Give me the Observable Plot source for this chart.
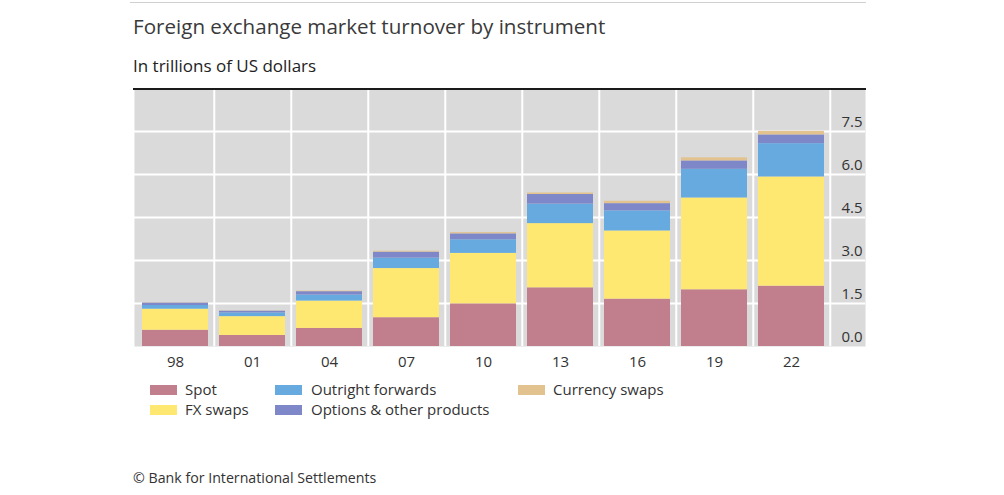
<!DOCTYPE html>
<html><head><meta charset="utf-8">
<script src="https://cdn.jsdelivr.net/npm/d3@7"></script>
<script src="https://cdn.jsdelivr.net/npm/@observablehq/plot@0.6"></script>
<style>
body{margin:0;background:#fff;font-family:"Open Sans",sans-serif;color:#333}
#wrap{position:relative;width:1004px;height:495px;overflow:hidden}
.abs{position:absolute;white-space:nowrap}
#topline{left:130px;top:2px;width:736px;height:1px;background:#d0d0d0}
#title{left:133px;top:16px;font-size:20.6px;line-height:20px;color:#3a3a3a}
#subtitle{left:133px;top:57px;font-size:17px;line-height:17px;color:#222}
#chart{left:0;top:88px}
#blackline{left:133px;top:88px;width:733px;height:1.5px;background:#1a1a1a}
#footer{left:133px;top:471px;font-size:14.2px;line-height:14px;color:#333}
.sw{position:absolute;width:27px;height:10px}
.lt{position:absolute;font-size:15px;line-height:15px;color:#333;white-space:nowrap}
</style></head><body>
<div id="wrap">
<div id="topline" class="abs"></div>
<div id="title" class="abs">Foreign exchange market turnover by instrument</div>
<div id="subtitle" class="abs">In trillions of US dollars</div>
<div id="chart" class="abs"></div>
<div id="blackline" class="abs"></div>
<div id="legend"></div>
<div id="footer" class="abs">© Bank for International Settlements</div>
</div>
<script>
const years = ["98","01","04","07","10","13","16","19","22"];
const instruments = ["Spot","FX swaps","Outright forwards","Options & other products","Currency swaps"];
const spot      = [0.568,0.386,0.631,1.005,1.489,2.047,1.652,1.979,2.104];
const fxSwaps   = [0.734,0.656,0.954,1.714,1.759,2.240,2.378,3.202,3.810];
const outright  = [0.128,0.130,0.209,0.362,0.475,0.679,0.700,0.999,1.163];
const options   = [0.087,0.060,0.119,0.212,0.207,0.337,0.254,0.294,0.304];
const currSwaps = [0.010,0.007,0.021,0.031,0.043,0.054,0.082,0.108,0.124];
const colors = ["#c17f8e","#ffe872","#67aadf","#7e88c9","#e2c38f"];
const yTicks = [0, 1.5, 3, 4.5, 6, 7.5];

const series = [spot, fxSwaps, outright, options, currSwaps];
const data = years.flatMap((yr, i) => instruments.map((inst, k) => ({year: yr, instrument: inst, value: series[k][i]})));

const x0 = 134, x1 = 832;
const step = (x1 - x0) / years.length;
const chart = Plot.plot({
  width: 1004, height: 290,
  marginTop: 0, marginBottom: 32, marginLeft: 134, marginRight: 139,
  x: {domain: years, range: [x0, x1], paddingInner: 0.14, paddingOuter: 0.07, label: null, axis: null},
  y: {domain: [0, 9], label: null, axis: null},
  color: {domain: instruments, range: colors},
  style: {fontFamily: "'Open Sans', sans-serif", fontSize: "15px", color: "#333", background: "transparent"},
  marks: [
    Plot.frame({fill: "#dadada", stroke: null}),
    Plot.ruleY(yTicks.slice(1), {stroke: "#fff", strokeWidth: 2}),
    Plot.ruleX(years, {x: d => d, dx: step / 2, stroke: "#fff", strokeWidth: 2}),
    Plot.barY(data, {x: "year", y: "value", fill: "instrument"}),
    Plot.axisX({tickSize: 0, tickPadding: 10, label: null, fontSize: 15}),
    Plot.text(yTicks, {y: d => d, frameAnchor: "right", text: d => d.toFixed(1), textAnchor: "end", dx: -3, dy: -9, fill: "#333", fontSize: 15})
  ]
});
document.getElementById("chart").appendChild(chart);

// legend (column-major, two rows)
const legendPos = [
  {sx: 150, tx: 185, row: 0}, {sx: 150, tx: 185, row: 1},
  {sx: 275, tx: 311, row: 0}, {sx: 275, tx: 311, row: 1},
  {sx: 518, tx: 553, row: 0}
];
const lg = document.getElementById("legend");
instruments.forEach((name, k) => {
  const p = legendPos[k];
  const top = 385 + p.row * 20;
  const sw = document.createElement("div");
  sw.className = "sw"; sw.style.left = p.sx + "px"; sw.style.top = top + "px"; sw.style.background = colors[k];
  const t = document.createElement("div");
  t.className = "lt"; t.style.left = p.tx + "px"; t.style.top = (top - 3) + "px"; t.textContent = name;
  lg.appendChild(sw); lg.appendChild(t);
});
</script>
</body></html>
